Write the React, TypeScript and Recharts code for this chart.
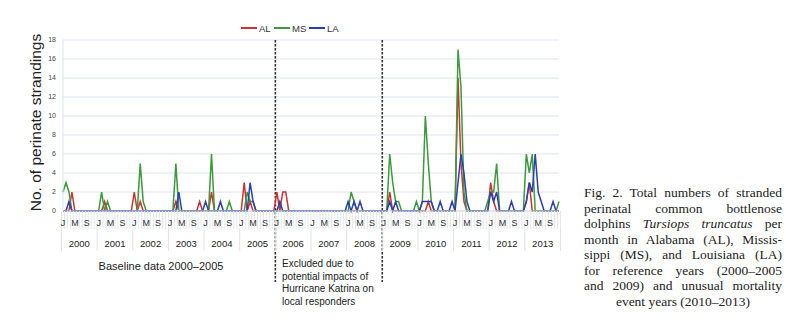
import React from "react";
import {
  LineChart,
  Line,
  XAxis,
  YAxis,
  CartesianGrid,
  ReferenceLine,
} from "recharts";

// monthly perinatal strandings, Jan 2000 .. Dec 2013 (one row per year)
const AL = [
  0, 0, 0, 2, 0, 0, 0, 0, 0, 0, 0, 0,
  0, 0, 1, 0, 0, 0, 0, 0, 0, 0, 0, 0,
  2, 0, 1, 0, 0, 0, 0, 0, 0, 0, 0, 0,
  0, 0, 1, 0, 0, 0, 0, 0, 0, 0, 1, 0,
  0, 0, 2, 0, 0, 0, 0, 0, 0, 0, 0, 0,
  0, 3, 0, 1, 0, 0, 0, 0, 0, 0, 0, 0,
  2, 0, 2, 2, 0, 0, 0, 0, 0, 0, 0, 0,
  0, 0, 0, 0, 0, 0, 0, 0, 0, 0, 0, 0,
  0, 0, 0, 0, 0, 0, 0, 0, 0, 0, 0, 0,
  0, 0, 2, 0, 0, 0, 0, 0, 0, 0, 0, 0,
  0, 0, 0, 1, 0, 0, 0, 0, 0, 0, 0, 0,
  0, 14, 5, 1, 0, 0, 0, 0, 0, 0, 0, 0,
  3, 1, 0, 0, 0, 0, 0, 0, 0, 0, 0, 0,
  1, 3, 0, 0, 0, 0, 0, 0, 0, 0, 0, 0,
];

const MS = [
  2, 3, 2, 0, 0, 0, 0, 0, 0, 0, 0, 0,
  0, 2, 0, 1, 0, 0, 0, 0, 0, 0, 0, 0,
  0, 0, 5, 1, 0, 0, 0, 0, 0, 0, 0, 0,
  0, 0, 5, 0, 0, 0, 0, 0, 0, 0, 0, 0,
  0, 0, 6, 0, 0, 0, 0, 0, 1, 0, 0, 0,
  0, 0, 2, 1, 1, 0, 0, 0, 0, 0, 0, 0,
  0, 0, 0, 0, 0, 0, 0, 0, 0, 0, 0, 0,
  0, 0, 0, 0, 0, 0, 0, 0, 0, 0, 0, 0,
  0, 2, 1, 0, 0, 0, 0, 0, 0, 0, 0, 0,
  0, 0, 6, 3, 1, 1, 0, 0, 0, 0, 0, 1,
  0, 1, 10, 5, 1, 0, 0, 0, 0, 0, 0, 0,
  0, 17, 13, 2, 0, 0, 0, 0, 0, 0, 0, 1,
  2, 2, 5, 0, 0, 0, 0, 0, 0, 0, 0, 0,
  6, 4, 6, 0, 0, 0, 0, 0, 0, 0, 0, 1,
];

const LA = [
  0, 0, 1, 0, 0, 0, 0, 0, 0, 0, 0, 0,
  0, 0, 0, 0, 0, 0, 0, 0, 0, 0, 0, 0,
  0, 0, 0, 0, 0, 0, 0, 0, 0, 0, 0, 0,
  0, 0, 0, 2, 0, 0, 0, 0, 0, 0, 0, 0,
  1, 0, 0, 0, 0, 1, 0, 0, 0, 0, 0, 0,
  0, 0, 0, 3, 1, 0, 0, 0, 0, 0, 0, 0,
  0, 1, 0, 0, 0, 0, 0, 0, 0, 0, 0, 0,
  0, 0, 0, 0, 0, 0, 0, 0, 0, 0, 0, 0,
  1, 0, 1, 0, 1, 0, 0, 0, 0, 0, 0, 0,
  0, 0, 1, 0, 1, 0, 0, 0, 0, 0, 0, 0,
  0, 1, 1, 1, 1, 0, 0, 1, 0, 0, 0, 1,
  0, 3, 6, 4, 1, 0, 0, 0, 0, 0, 0, 0,
  2, 1, 2, 0, 0, 0, 0, 1, 0, 0, 0, 0,
  1, 3, 2, 6, 2, 1, 0, 0, 0, 1, 0, 0,
];

const years = [
  "2000", "2001", "2002", "2003", "2004", "2005", "2006",
  "2007", "2008", "2009", "2010", "2011", "2012", "2013",
];
const monthLetters = ["J", "M", "S"]; // Jan, May, Sep
const yTicks = [0, 2, 4, 6, 8, 10, 12, 14, 16, 18];

const data = AL.map((v, i) => ({ idx: i, AL: v, MS: MS[i], LA: LA[i] }));
const monthTicks = data.map((d) => d.idx);

const PLOT_LEFT = 63;
const PLOT_RIGHT = 559;
const PLOT_TOP = 40;
const PLOT_BOTTOM = 211;
const STEP = (PLOT_RIGHT - PLOT_LEFT) / (AL.length - 1);

const RED = "#cc3333";
const GREEN = "#3b9b3b";
const BLUE = "#2a40b0";

const MonthTick = (props: any) => {
  const { x, payload } = props;
  const m = payload.value as number;
  const half = STEP / 2;
  return (
    <g>
      {m === 0 && (
        <line x1={x - half} x2={x - half} y1={PLOT_BOTTOM} y2={251} stroke="#dfe3e8" />
      )}
      <line x1={x + half} x2={x + half} y1={PLOT_BOTTOM} y2={229} stroke="#e4e8ed" />
      {m % 4 === 0 && (
        <text x={x} y={226} textAnchor="middle" fontSize={9} fill="#333"
          fontFamily="Liberation Sans, Arial, sans-serif">
          {monthLetters[(m % 12) / 4]}
        </text>
      )}
      {m % 12 === 11 && (
        <line x1={x + half} x2={x + half} y1={229} y2={251} stroke="#dfe3e8" />
      )}
      {m % 12 === 6 && (
        <text x={x - half} y={247} textAnchor="middle" fontSize={9.5} fill="#222"
          fontFamily="Liberation Sans, Arial, sans-serif">
          {years[Math.floor(m / 12)]}
        </text>
      )}
    </g>
  );
};

const DashedDivider = (props: any) => {
  const top = Math.min(props.y1, props.y2);
  return (
    <line x1={props.x1} x2={props.x1} y1={top} y2={282}
      stroke="#333" strokeWidth={1.6} strokeDasharray="2.5 1.5" />
  );
};

const legendItems = [
  { name: "AL", color: RED, x: 241 },
  { name: "MS", color: GREEN, x: 274 },
  { name: "LA", color: BLUE, x: 309 },
];

const captionLines = [
  "Fig. 2. Total numbers of stranded",
  "perinatal common bottlenose",
  "",
  "month in Alabama (AL), Missis-",
  "sippi (MS), and Louisiana (LA)",
  "for reference years (2000–2005",
  "and 2009) and unusual mortality",
];

export default function App() {
  return (
    <div style={{ position: "absolute", left: 0, top: 0, width: 800, height: 325, background: "#fff" }}>
      <LineChart
        width={800}
        height={325}
        data={data}
        margin={{ top: PLOT_TOP, right: 800 - PLOT_RIGHT, left: PLOT_LEFT - 30, bottom: 325 - PLOT_BOTTOM - 40 }}
      >
        <CartesianGrid horizontal vertical={false} stroke="#dde4ec" />
        <XAxis
          dataKey="idx"
          type="number"
          domain={[0, AL.length - 1]}
          ticks={monthTicks}
          interval={0}
          tick={<MonthTick />}
          tickLine={false}
          axisLine={{ stroke: "#d6dce3" }}
          height={40}
        />
        <YAxis
          width={30}
          domain={[0, 18]}
          ticks={yTicks}
          interval={0}
          tickLine={false}
          tickSize={0}
          tickMargin={7}
          axisLine={{ stroke: "#dde4ec" }}
          tick={{ fontSize: 7, fill: "#444", fontFamily: "Liberation Sans, Arial, sans-serif" }}
        />
        <ReferenceLine x={71.5} shape={<DashedDivider />} />
        <ReferenceLine x={107.5} shape={<DashedDivider />} />
        <Line type="linear" dataKey="AL" stroke={RED} strokeWidth={1.5} dot={false} isAnimationActive={false} />
        <Line type="linear" dataKey="MS" stroke={GREEN} strokeWidth={1.5} dot={false} isAnimationActive={false} />
        <Line type="linear" dataKey="LA" stroke={BLUE} strokeWidth={1.5} dot={false} isAnimationActive={false} />
      </LineChart>

      <svg width={800} height={325} style={{ position: "absolute", left: 0, top: 0, pointerEvents: "none" }}
        fontFamily="Liberation Sans, Arial, sans-serif">
        <text x={35} y={122.5} transform="rotate(-90 35 122.5)" textAnchor="middle"
          dominantBaseline="central" fontSize={15.5} fill="#222">
          No. of perinate strandings
        </text>
        {legendItems.map((it) => (
          <g key={it.name}>
            <line x1={it.x} x2={it.x + 16} y1={28} y2={28} stroke={it.color} strokeWidth={2} />
            <text x={it.x + 18} y={31.5} fontSize={9.5} fill="#333">{it.name}</text>
          </g>
        ))}
        <text x={161} y={270} textAnchor="middle" fontSize={11} fill="#222">
          Baseline data 2000–2005
        </text>
        {["Excluded due to", "potential impacts of", "Hurricane Katrina on", "local responders"].map((t, i) => (
          <text key={t} x={282} y={267 + i * 12.6} fontSize={10} fill="#222">{t}</text>
        ))}
      </svg>

      <div style={{
        position: "absolute", left: 584, top: 185, width: 198,
        fontFamily: "Liberation Serif, 'Times New Roman', serif", fontSize: 13.5,
        lineHeight: "15.5px", color: "#222",
      }}>
        {captionLines.map((t, i) => (
          <div key={i} style={{ textAlign: "justify", textAlignLast: "justify", whiteSpace: "nowrap" }}>
            {i === 2 ? (
              <span>dolphins <i>Tursiops truncatus</i> per</span>
            ) : t}
          </div>
        ))}
        <div style={{ textAlign: "center" }}>event years (2010–2013)</div>
      </div>
    </div>
  );
}
